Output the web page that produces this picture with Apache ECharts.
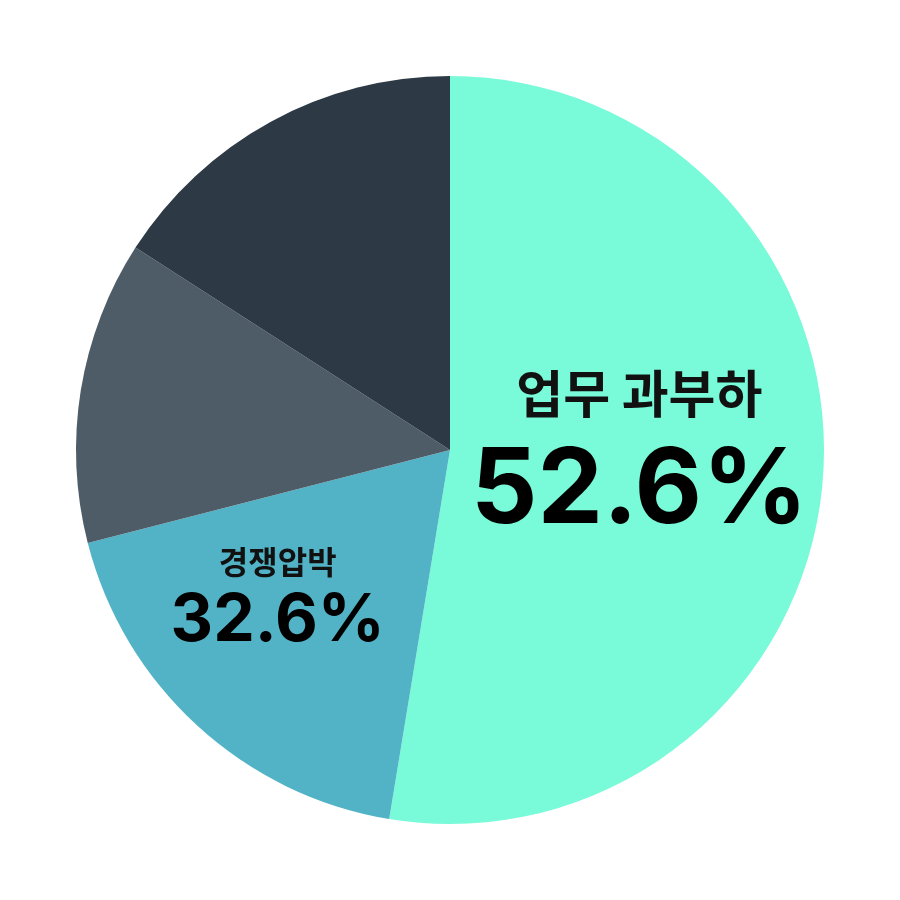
<!DOCTYPE html>
<html lang="ko">
<head>
    <meta charset="UTF-8">
    <title>pie</title>
    <script type="text/javascript" src="https://cdn.jsdelivr.net/npm/echarts@6/dist/echarts.min.js"></script>
    <style>
        html, body { margin: 0; padding: 0; background: #fff; }
    </style>
</head>
<body>
<div id="main" style="width: 900px;height:900px;"></div>
<script type="text/javascript">
// slice sizes (percent of circle)
var names = ['업무 과부하', '경쟁압박', '기타1', '기타2'];
var values = [52.6, 18.4, 13.1, 15.9];
var colors = ['#79FAD9', '#52B3C6', '#4E5C68', '#2D3944'];
// text printed on slices (empty = no label)
var shownPct = ['52.6%', '32.6%', '', ''];

var krFont = '"Noto Sans CJK KR", "Noto Sans", sans-serif';
var numFont = 'Inter, "Noto Sans", sans-serif';

var labelStyles = [
    { offset: [0, -8], nameSize: 51, nameLH: 68, pctSize: 104, pctLH: 128 },
    { offset: [-44, 11], nameSize: 32, nameLH: 40, pctSize: 66, pctLH: 78 }
];

var data = names.map(function (n, i) {
    var item = { name: n, value: values[i], itemStyle: { color: colors[i] } };
    if (shownPct[i]) {
        var s = labelStyles[i];
        item.label = {
            show: true,
            position: 'inside',
            offset: s.offset,
            formatter: '{n|' + n + '}\n{p|' + shownPct[i] + '}',
            rich: {
                n: { fontFamily: krFont, fontWeight: 'bold', fontSize: s.nameSize, lineHeight: s.nameLH, color: '#111', align: 'center' },
                p: { fontFamily: numFont, fontWeight: 'bold', fontSize: s.pctSize, lineHeight: s.pctLH, color: '#000', align: 'center' }
            }
        };
    } else {
        item.label = { show: false };
    }
    return item;
});

var myChart = echarts.init(document.getElementById('main'));
myChart.setOption({
    animation: false,
    series: [{
        type: 'pie',
        center: ['50%', '50%'],
        radius: [0, 374],
        startAngle: 90,
        clockwise: true,
        label: { show: false },
        labelLine: { show: false },
        emphasis: { disabled: true },
        itemStyle: { borderWidth: 0 },
        data: data
    }]
});
</script>
</body>
</html>
